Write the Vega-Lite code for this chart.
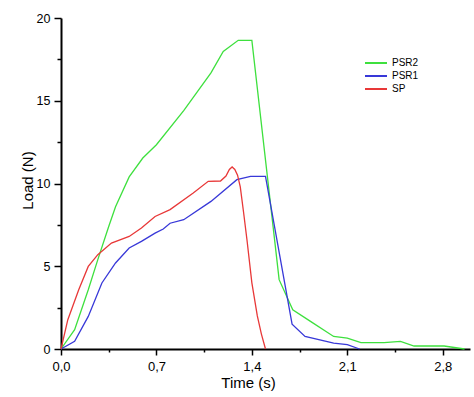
{
  "$schema": "https://vega.github.io/schema/vega-lite/v6.json",
  "width": 409,
  "height": 331,
  "autosize": "none",
  "padding": {"left": 61, "top": 18, "right": 4, "bottom": 48},
  "background": "white",
  "config": {"view": {"stroke": null}},
  "data": {"values": [
    {"s": "PSR2", "t": 0.0, "L": 0.0},
    {"s": "PSR2", "t": 0.10, "L": 1.17},
    {"s": "PSR2", "t": 0.20, "L": 3.58},
    {"s": "PSR2", "t": 0.27, "L": 5.4},
    {"s": "PSR2", "t": 0.35, "L": 7.4},
    {"s": "PSR2", "t": 0.40, "L": 8.6},
    {"s": "PSR2", "t": 0.50, "L": 10.4},
    {"s": "PSR2", "t": 0.60, "L": 11.54},
    {"s": "PSR2", "t": 0.70, "L": 12.34},
    {"s": "PSR2", "t": 0.90, "L": 14.4},
    {"s": "PSR2", "t": 1.10, "L": 16.68},
    {"s": "PSR2", "t": 1.19, "L": 17.98},
    {"s": "PSR2", "t": 1.30, "L": 18.65},
    {"s": "PSR2", "t": 1.40, "L": 18.65},
    {"s": "PSR2", "t": 1.60, "L": 4.19},
    {"s": "PSR2", "t": 1.70, "L": 2.37},
    {"s": "PSR2", "t": 1.83, "L": 1.67},
    {"s": "PSR2", "t": 2.00, "L": 0.76},
    {"s": "PSR2", "t": 2.10, "L": 0.66},
    {"s": "PSR2", "t": 2.20, "L": 0.38},
    {"s": "PSR2", "t": 2.37, "L": 0.38},
    {"s": "PSR2", "t": 2.49, "L": 0.46},
    {"s": "PSR2", "t": 2.59, "L": 0.18},
    {"s": "PSR2", "t": 2.81, "L": 0.18},
    {"s": "PSR2", "t": 2.96, "L": 0.0},
    {"s": "PSR1", "t": 0.0, "L": 0.0},
    {"s": "PSR1", "t": 0.10, "L": 0.46},
    {"s": "PSR1", "t": 0.20, "L": 1.97},
    {"s": "PSR1", "t": 0.30, "L": 3.99},
    {"s": "PSR1", "t": 0.40, "L": 5.2},
    {"s": "PSR1", "t": 0.50, "L": 6.1},
    {"s": "PSR1", "t": 0.59, "L": 6.5},
    {"s": "PSR1", "t": 0.69, "L": 7.0},
    {"s": "PSR1", "t": 0.75, "L": 7.25},
    {"s": "PSR1", "t": 0.80, "L": 7.6},
    {"s": "PSR1", "t": 0.90, "L": 7.81},
    {"s": "PSR1", "t": 1.10, "L": 8.92},
    {"s": "PSR1", "t": 1.29, "L": 10.23},
    {"s": "PSR1", "t": 1.39, "L": 10.43},
    {"s": "PSR1", "t": 1.50, "L": 10.43},
    {"s": "PSR1", "t": 1.695, "L": 1.5},
    {"s": "PSR1", "t": 1.79, "L": 0.76},
    {"s": "PSR1", "t": 2.00, "L": 0.36},
    {"s": "PSR1", "t": 2.10, "L": 0.26},
    {"s": "PSR1", "t": 2.19, "L": 0.0},
    {"s": "SP", "t": 0.0, "L": 0.0},
    {"s": "SP", "t": 0.05, "L": 1.77},
    {"s": "SP", "t": 0.13, "L": 3.58},
    {"s": "SP", "t": 0.20, "L": 4.99},
    {"s": "SP", "t": 0.27, "L": 5.7},
    {"s": "SP", "t": 0.37, "L": 6.4},
    {"s": "SP", "t": 0.50, "L": 6.8},
    {"s": "SP", "t": 0.59, "L": 7.31},
    {"s": "SP", "t": 0.69, "L": 8.01},
    {"s": "SP", "t": 0.80, "L": 8.42},
    {"s": "SP", "t": 0.97, "L": 9.43},
    {"s": "SP", "t": 1.08, "L": 10.13},
    {"s": "SP", "t": 1.17, "L": 10.15},
    {"s": "SP", "t": 1.21, "L": 10.45},
    {"s": "SP", "t": 1.235, "L": 10.85},
    {"s": "SP", "t": 1.255, "L": 11.0},
    {"s": "SP", "t": 1.275, "L": 10.85},
    {"s": "SP", "t": 1.295, "L": 10.5},
    {"s": "SP", "t": 1.315, "L": 9.8},
    {"s": "SP", "t": 1.34, "L": 8.2},
    {"s": "SP", "t": 1.364, "L": 6.6},
    {"s": "SP", "t": 1.40, "L": 4.0},
    {"s": "SP", "t": 1.44, "L": 2.0},
    {"s": "SP", "t": 1.47, "L": 0.9},
    {"s": "SP", "t": 1.50, "L": 0.0}
  ]},
  "mark": {"type": "line", "strokeWidth": 1.3, "interpolate": "linear"},
  "encoding": {
    "x": {
      "field": "t", "type": "quantitative",
      "scale": {"domain": [0, 3], "nice": false, "zero": false},
      "axis": {
        "title": "Time (s)",
        "values": [0, 0.35, 0.7, 1.05, 1.4, 1.75, 2.1, 2.45, 2.8],
        "labelExpr": "abs(datum.value/0.7 - round(datum.value/0.7)) < 0.01 ? replace(format(datum.value, '.1f'), '.', ',') : ''",
        "tickSize": {"condition": {"test": "abs(datum.value/0.7 - round(datum.value/0.7)) < 0.01", "value": 6}, "value": 3},
        "grid": false,
        "domainColor": "#000", "domainWidth": 2,
        "tickColor": "#000", "tickWidth": 1.5,
        "labelFont": "Liberation Sans", "labelFontSize": 13, "labelColor": "#000",
        "labelPadding": 5, "labelFlush": false,
        "titleFont": "Liberation Sans", "titleFontSize": 15, "titleFontWeight": "normal", "titleColor": "#000",
        "titleX": 187, "titleY": 26, "titleBaseline": "top"
      }
    },
    "y": {
      "field": "L", "type": "quantitative",
      "scale": {"domain": [0, 20], "nice": false},
      "axis": {
        "title": "Load (N)",
        "values": [0, 2.5, 5, 7.5, 10, 12.5, 15, 17.5, 20],
        "labelExpr": "datum.value % 5 == 0 ? format(datum.value, 'd') : ''",
        "tickSize": {"condition": {"test": "datum.value % 5 == 0", "value": 7}, "value": 4},
        "grid": false,
        "domainColor": "#000", "domainWidth": 2,
        "tickColor": "#000", "tickWidth": 1.5,
        "labelFont": "Liberation Sans", "labelFontSize": 12.5, "labelColor": "#000",
        "labelPadding": 4, "labelFlush": false,
        "titleFont": "Liberation Sans", "titleFontSize": 15, "titleFontWeight": "normal", "titleColor": "#000",
        "titleX": -26, "titleY": 162, "titleBaseline": "bottom"
      }
    },
    "color": {
      "field": "s", "type": "nominal",
      "scale": {"domain": ["PSR2", "PSR1", "SP"], "range": ["#3ee03e", "#3838d8", "#e83838"]},
      "legend": {
        "title": null,
        "orient": "none",
        "legendX": 309,
        "legendY": 39,
        "padding": 0,
        "symbolType": "M-2.2,0H2.2",
        "symbolSize": 100,
        "symbolStrokeWidth": 2,
        "labelOffset": 10,
        "labelFont": "Liberation Sans",
        "labelFontSize": 10,
        "labelColor": "#000",
        "rowPadding": 2
      }
    }
  }
}
